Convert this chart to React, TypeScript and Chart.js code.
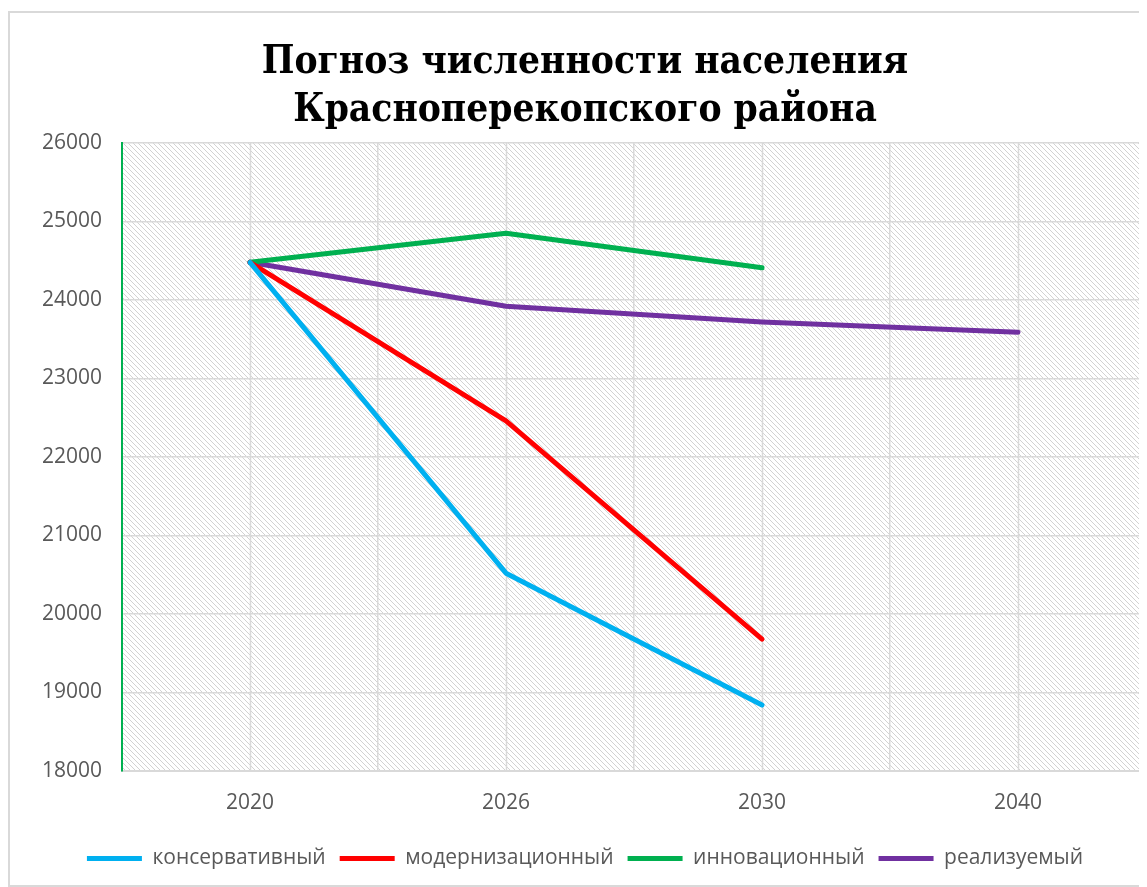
import React, { useEffect, useRef } from 'react';
import { Chart, registerables } from 'chart.js';

Chart.register(...registerables);

const years = ['2020', '2026', '2030', '2040'];
const conservative = [24480, 20520, 18840, null];
const modernization = [24480, 22460, 19680, null];
const innovation = [24480, 24850, 24410, null];
const realizable = [24480, 23920, 23720, 23590];
const seriesNames = ['консервативный', 'модернизационный', 'инновационный', 'реализуемый'];
const seriesColors = ['#00B0F0', '#FF0000', '#00B050', '#7030A0'];
const titleLines = ['Погноз численности населения', 'Красноперекопского района'];
const yMin = 18000;
const yMax = 26000;
const yStep = 1000;

const TEXT_FONT = "'Open Sans', 'DejaVu Sans', sans-serif";
const TITLE_FONT = "'DejaVu Serif Condensed', 'DejaVu Serif', 'Liberation Serif', serif";

const bgPlugin = {
  id: 'bgHatch',
  beforeDraw(chart: any) {
    const { ctx, chartArea: a, width, height } = chart;
    ctx.save();
    ctx.fillStyle = '#ffffff';
    ctx.fillRect(0, 0, width, height);
    ctx.strokeStyle = '#d9d9d9';
    ctx.lineWidth = 2;
    ctx.strokeRect(1, 4, width + 10, 874);
    const s = 5;
    const tile = document.createElement('canvas');
    tile.width = s;
    tile.height = s;
    const t = tile.getContext('2d')!;
    t.strokeStyle = '#d2d2d2';
    t.lineWidth = 1;
    for (let k = -1; k <= 1; k++) {
      t.beginPath();
      t.moveTo(k * s, 0);
      t.lineTo(k * s + s, s);
      t.stroke();
    }
    const pat = ctx.createPattern(tile, 'repeat');
    if (pat) {
      ctx.fillStyle = pat;
      ctx.fillRect(a.left, a.top, a.right - a.left, a.bottom - a.top);
    }
    ctx.restore();
  },
  beforeDatasetsDraw(chart: any) {
    const { ctx, chartArea: a } = chart;
    const xs = chart.scales.x;
    ctx.save();
    ctx.strokeStyle = '#d9d9d9';
    ctx.lineWidth = 1.5;
    for (let i = 0; i < years.length; i++) {
      const px = Math.round(xs.getPixelForTick(i)) + 0.5;
      ctx.beginPath();
      ctx.moveTo(px, a.top);
      ctx.lineTo(px, a.bottom);
      ctx.stroke();
    }
    ctx.restore();
  },
};

export default function App() {
  const ref = useRef<HTMLCanvasElement>(null);
  useEffect(() => {
    if (!ref.current) return;
    const seriesData = [conservative, modernization, innovation, realizable];
    const chart = new Chart(ref.current, {
      type: 'line',
      data: {
        labels: years,
        datasets: seriesNames.map((name, i) => ({
          label: name,
          data: seriesData[i],
          borderColor: seriesColors[i],
          backgroundColor: seriesColors[i],
          borderWidth: 5,
          borderCapStyle: 'round',
          borderJoinStyle: 'round',
          pointRadius: 0,
          pointHoverRadius: 0,
          pointStyle: 'line',
          tension: 0,
          spanGaps: false,
        })),
      },
      options: {
        responsive: false,
        animation: false,
        devicePixelRatio: 1,
        layout: { padding: { left: 16, right: 16, top: 0, bottom: 8 } },
        plugins: {
          tooltip: { enabled: false },
          title: {
            display: true,
            text: titleLines,
            color: '#000000',
            font: { family: TITLE_FONT, size: 38.5, weight: 'bold', lineHeight: 1.25 },
            padding: { top: 31, bottom: 7.75 },
          },
          legend: {
            position: 'bottom',
            labels: {
              usePointStyle: true,
              pointStyleWidth: 55,
              padding: 14,
              color: '#595959',
              font: { family: TEXT_FONT, size: 21 },
            },
          },
        },
        scales: {
          x: {
            offset: true,
            grid: { offset: true, color: '#d9d9d9', lineWidth: 1.5, drawTicks: false },
            border: { color: '#d9d9d9', width: 2 },
            ticks: { color: '#595959', font: { family: TEXT_FONT, size: 21 }, padding: 19 },
            afterFit: (s: any) => { s.height = 63; },
          },
          y: {
            min: yMin,
            max: yMax,
            grid: { color: '#d9d9d9', lineWidth: 1.5, drawTicks: false },
            border: { color: '#00B050', width: 2 },
            ticks: {
              stepSize: yStep,
              color: '#595959',
              font: { family: TEXT_FONT, size: 21 },
              padding: 20,
              callback: (v: any) => String(v),
            },
            afterFit: (s: any) => { s.width = 98; },
          },
        },
      },
      plugins: [bgPlugin],
    } as any);
    return () => chart.destroy();
  }, []);
  return (
    <div style={{ width: 1139, height: 879, overflow: 'hidden', position: 'relative' }}>
      <canvas ref={ref} width={1154} height={879} style={{ display: 'block' }} />
    </div>
  );
}
